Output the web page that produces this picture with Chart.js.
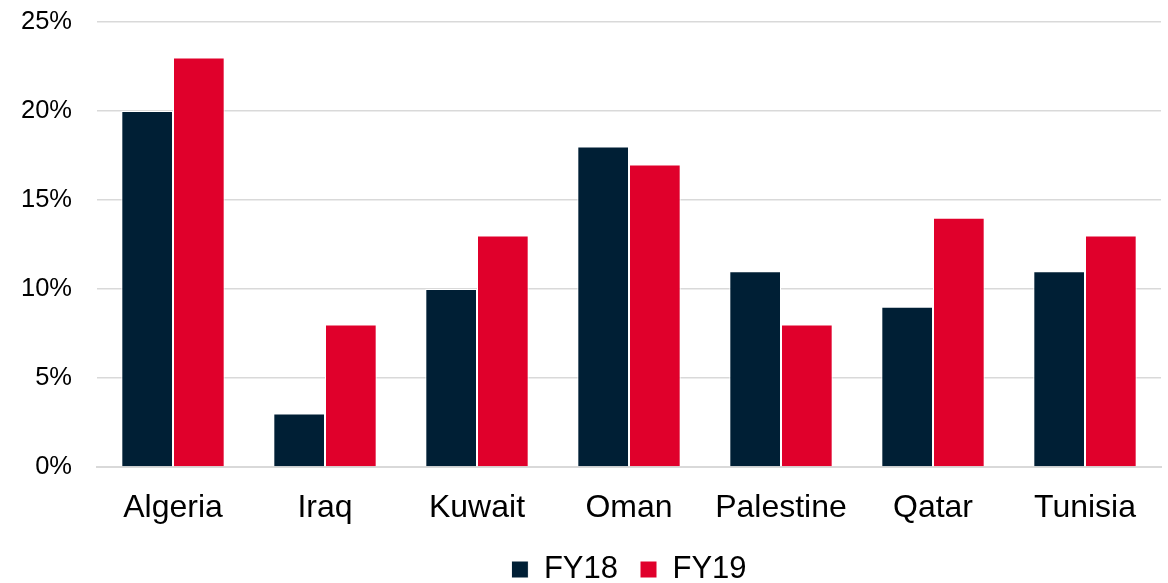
<!DOCTYPE html>
<html>
<head>
<meta charset="utf-8">
<script src="https://cdn.jsdelivr.net/npm/chart.js@4/dist/chart.umd.min.js"></script>
<style>
  html, body { margin: 0; padding: 0; background: #fff; }
  #wrap { width: 1168px; height: 583px; }
</style>
</head>
<body>
<div id="wrap"><canvas id="chart"></canvas></div>
<script>
const countries = ["Algeria", "Iraq", "Kuwait", "Oman", "Palestine", "Qatar", "Tunisia"]
const fy18 = [20, 3, 10, 18, 11, 9, 11]
const fy19 = [23, 8, 13, 17, 8, 14, 13]
const seriesNames = ["FY18", "FY19"]

const navy = "#001f35"
const red = "#e0002b"

Chart.defaults.font.family = "'Liberation Sans', Arial, sans-serif"
Chart.defaults.color = "#000"

const ctx = document.getElementById("chart").getContext("2d")

new Chart(ctx, {
	type: "bar",
	data: {
		labels: countries,
		datasets: [{
			label: seriesNames[0],
			data: fy18,
			backgroundColor: navy,
			borderColor: "#fff",
			borderWidth: 1,
			borderSkipped: "bottom",
		}, {
			label: seriesNames[1],
			data: fy19,
			backgroundColor: red,
			borderColor: "#fff",
			borderWidth: 1,
			borderSkipped: "bottom",
		}]
	},
	options: {
		responsive: true,
		maintainAspectRatio: false,
		animation: false,
		layout: {
			padding: { top: 0, right: 7, bottom: -12, left: 21 }
		},
		datasets: {
			bar: {
				categoryPercentage: 0.68,
				barPercentage: 1,
			}
		},
		scales: {
			x: {
				grid: { display: false, drawTicks: false },
				border: { display: true, color: "#d9d9d9", width: 2 },
				ticks: {
					font: { size: 32 },
					padding: 22,
				},
				afterFit: s => {
					// fixed box so the legend sits where it should
					s.paddingLeft = 0
					s.paddingRight = 0
					s.height = 65
				}
			},
			y: {
				min: 0,
				max: 25,
				grid: { color: "#d9d9d9", lineWidth: 1.5, drawTicks: false },
				border: { display: false },
				ticks: {
					stepSize: 5,
					font: { size: 25.5 },
					padding: 25,
					callback: v => v + "%",
				},
				afterFit: s => {
					s.width = 76
					s.paddingTop = 22
					s.paddingBottom = 0
				}
			}
		},
		plugins: {
			legend: {
				position: "bottom",
				fullSize: false,
				labels: {
					font: { size: 31 },
					boxWidth: 17,
					boxHeight: 17,
					padding: 22,
					useBorderRadius: false,
				}
			},
			tooltip: { enabled: false }
		}
	}
})
</script>
</body>
</html>
